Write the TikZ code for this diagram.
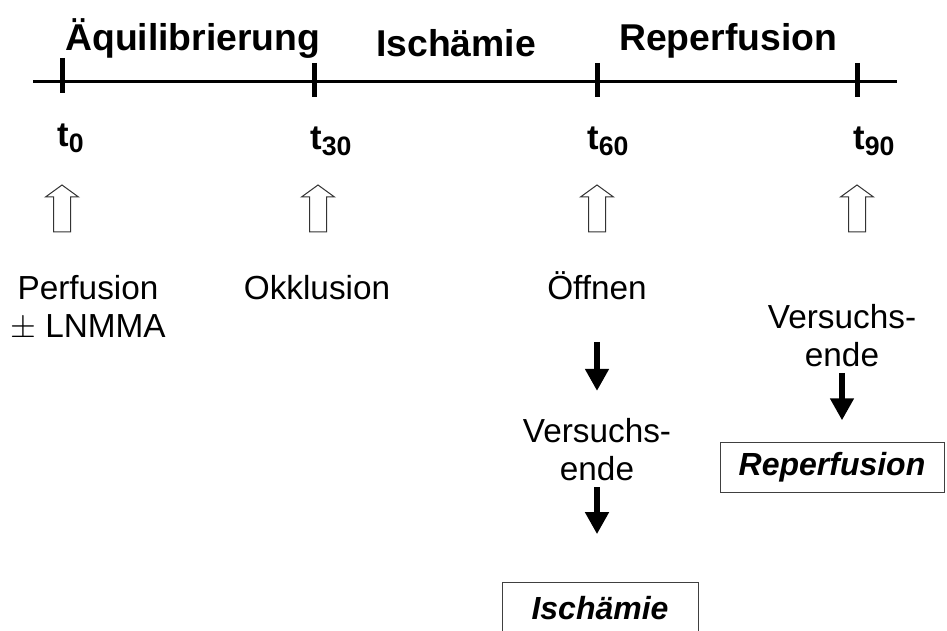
\documentclass[tikz,border=0pt]{standalone}
\usepackage{fontspec}
\setmainfont{Liberation Sans}
\usetikzlibrary{arrows.meta}
\newcommand{\tidx}[1]{t\raisebox{-4.5pt}{\fontsize{20}{22}\selectfont #1}}

\begin{document}
\begin{tikzpicture}[x=0.75pt,y=-0.75pt,
    phase/.style={font=\fontsize{28}{30}\selectfont\bfseries,anchor=base west,inner sep=0pt},
    time/.style={font=\fontsize{26}{28}\selectfont\bfseries,anchor=base west,inner sep=0pt},
    event/.style={font=\fontsize{25}{28.5}\selectfont,align=center,anchor=base,inner sep=0pt},
    result/.style={draw=black!75,line width=0.75pt,font=\fontsize{24}{26}\selectfont\bfseries\itshape,
      minimum height=38pt,inner sep=0pt},
    down/.style={line width=4.5pt,-{Triangle[width=17pt,length=16.5pt]}},
    hollow/.style={draw=black!80,line width=0.75pt,fill=white}]
    \useasboundingbox (0,0) rectangle (947,631);
    % time axis
     \coordinate (start) at (33,82);
     \coordinate (stop) at (897,82);
     \draw [line width=2.25pt](start)--(stop);
     \draw [line width=3.75pt](62,58)--(62,93);
     \draw [line width=3.75pt](314,63)--(314,97);
     \draw [line width=3.75pt](597,63)--(597,97);
     \draw [line width=3.75pt](857,63)--(857,97);
    \node [phase] (aequi) at (65,51) {Äquilibrierung};
    \node [phase] (isch) at (376,57) {Ischämie};
    \node [phase] (reperf) at (619,51) {Reperfusion};
    \node [time] (t0) at (57,147) {\tidx{0}};
    \node [time] (t30) at (310,150) {\tidx{30}};
    \node [time] (t60) at (587,150) {\tidx{60}};
    \node [time] (t90) at (853,150) {\tidx{90}};
    % hollow arrows
    \foreach \x in {62,318,597,857}
     \draw [hollow](\x,185)--(\x+16.5,197)--(\x+8.5,197)--(\x+8.5,232)--(\x-8.5,232)--(\x-8.5,197)--(\x-16.5,197)--cycle;
    % events (base = last line)
    \node [event] (perf) at (88,338) {Perfusion\\$\pm$ LNMMA};
    \node [event] (okkl) at (317,300) {Okklusion};
    \node [event] (open) at (597,300) {Öffnen};
    \node [event] (endB) at (842,367) {Versuchs-\\ende};
    \node [event] (endA) at (597,480) {Versuchs-\\ende};
    \node [result,minimum width=168pt] (boxR) at (832,467.5) {Reperfusion};
    \node [result,minimum width=147pt] (boxI) at (600,608) {Ischämie};
    % black arrows
     \draw [down,shorten <=31pt,shorten >=20pt](open)--(endA);
     \draw [down,shorten <=5pt,shorten >=36pt](endA)--(endA|-boxI.north);
     \draw [down,shorten <=4pt,shorten >=16pt](endB)--(endB|-boxR.north);
    \end{tikzpicture}
\end{document}
